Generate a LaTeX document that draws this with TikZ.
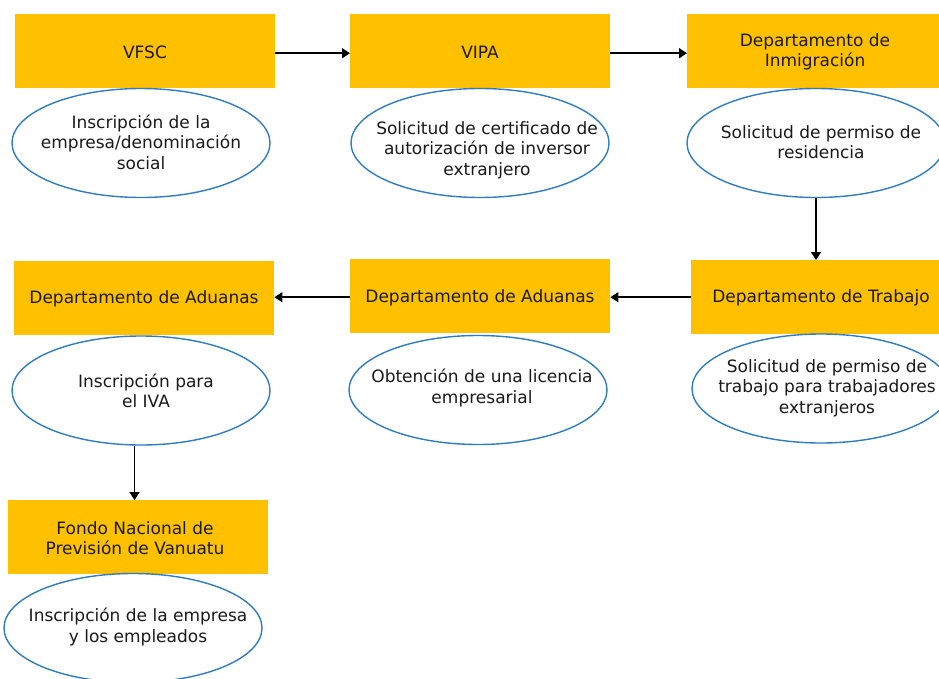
\documentclass[tikz,border=0pt]{standalone}
\usepackage{fontspec}
\setmainfont{DejaVu Sans}
\usetikzlibrary{shapes.geometric,arrows.meta}
\definecolor{boxfill}{HTML}{FFC000}
\definecolor{ellline}{HTML}{2E7CC4}
\definecolor{txtcol}{HTML}{1A1A1A}
\tikzset{
  bx/.style={rectangle, fill=boxfill, minimum width=260pt, minimum height=74pt, inner sep=0pt, anchor=north west},
  el/.style={ellipse, draw=ellline, line width=1.4pt, fill=white, minimum width=258pt, minimum height=109pt, inner sep=0pt},
  tx/.style={align=center, text=txtcol, font=\fontsize{17pt}{20.5pt}\selectfont, inner sep=0pt},
  arr/.style={draw=black, line width=1.5pt, -{Triangle[width=10pt,length=8pt]}}
}
\begin{document}
\begin{tikzpicture}[x=1pt,y=-1pt]
\useasboundingbox (0,0) rectangle (939,679);
\clip (0,0) rectangle (939,679);
% row 1
\node[bx] (b1) at (15,14) {};
\node[tx] (t1) at (145,52) {VFSC};
\node[el] (e1) at (141,143) {};
\node[tx] (u1) at (141,142) {Inscripción de la\\empresa/denominación\\social};

\node[bx] (b2) at (350,14) {};
\node[tx] (t2) at (480,52) {VIPA};
\node[el] (e2) at (480,143) {};
\node[tx] (u2) at (487,150) {Solicitud de certificado de\\autorización de inversor\\extranjero};

\node[bx] (b3) at (687,14) {};
\node[tx] (t3) at (815,52) {Departamento de\\Inmigración};
\node[el] (e3) at (816,143) {};
\node[tx] (u3) at (821,142) {Solicitud de permiso de\\residencia};

% row 2
\node[bx] (b4) at (691,260) {};
\node[tx] (t4) at (821,298) {Departamento de Trabajo};
\node[el] (e4) at (821,388.5) {};
\node[tx] (u4) at (827,388) {Solicitud de permiso de\\trabajo para trabajadores\\extranjeros};

\node[bx] (b5) at (350,259) {};
\node[tx] (t5) at (480,298) {Departamento de Aduanas};
\node[el] (e5) at (478,390) {};
\node[tx] (u5) at (482,388) {Obtención de una licencia\\empresarial};

\node[bx] (b6) at (14,261) {};
\node[tx] (t6) at (144,299) {Departamento de Aduanas};
\node[el] (e6) at (141,390.5) {};
\node[tx] (u6) at (146,391) {Inscripción para\\el IVA};

% row 3
\node[bx] (b7) at (8,500) {};
\node[tx] (t7) at (135,538) {Fondo Nacional de\\Previsión de Vanuatu};
\node[el] (e7) at (133,628) {};
\node[tx] (u7) at (138,627) {Inscripción de la empresa\\y los empleados};

% connectors
\draw[arr] ([yshift=-2pt]b1.east) -- ([yshift=-2pt]b1.east -| b2.west);
\draw[arr] ([yshift=-2pt]b2.east) -- ([yshift=-2pt]b2.east -| b3.west);
\draw[arr] (e3.south) -- (e3.south |- b4.north);
\draw[arr] (b4.west) -- (b4.west -| b5.east);
\draw[arr] ([yshift=-1pt]b5.west) -- ([yshift=-1pt]b5.west -| b6.east);
\draw[arr] ([xshift=-6.5pt]e6.south) -- ([xshift=-6.5pt]e6.south |- b7.north);
\end{tikzpicture}
\end{document}
